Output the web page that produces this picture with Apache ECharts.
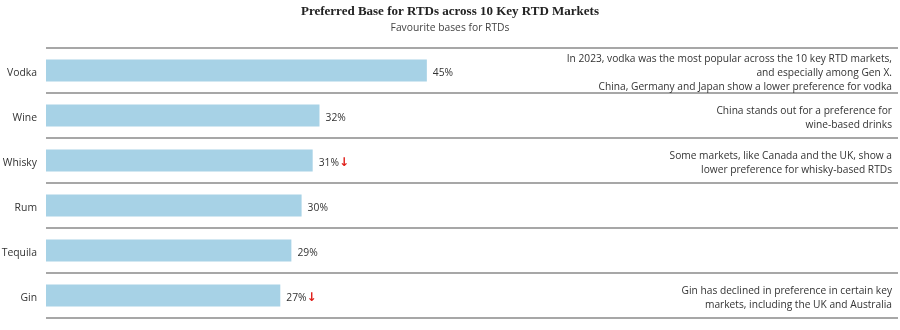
<!DOCTYPE html>
<html>
<head>
<meta charset="utf-8">
<script src="https://cdn.jsdelivr.net/npm/echarts@6/dist/echarts.min.js"></script>
<style>html,body{margin:0;padding:0;background:#fff;}#c{width:900px;height:330px;}</style>
</head>
<body>
<div id="c"></div>
<script>
var categories = ['Vodka', 'Wine', 'Whisky', 'Rum', 'Tequila', 'Gin'];
var values = [44.7, 32.1, 31.3, 30.0, 28.8, 27.5];
var labels = ['45%', '32%', '31%', '30%', '29%', '27%'];
var declined = [false, false, true, false, false, true];
var notes = [
  'In 2023, vodka was the most popular across the 10 key RTD markets,\nand especially among Gen X.\nChina, Germany and Japan show a lower preference for vodka',
  'China stands out for a preference for\nwine-based drinks',
  'Some markets, like Canada and the UK, show a\nlower preference for whisky-based RTDs',
  '',
  '',
  'Gin has declined in preference in certain key\nmarkets, including the UK and Australia'
];

var chart = echarts.init(document.getElementById('c'));
var font = '"Open Sans", "Noto Sans", sans-serif';
function shifted(v) {
  if (!v) return '';
  return '{s| }\n' + v.split('\n').map(function (line) { return '{n|' + line + '}'; }).join('\n');
}
chart.setOption({
  animation: false,
  title: {
    text: 'Preferred Base for RTDs across 10 Key RTD Markets',
    subtext: 'Favourite bases for RTDs',
    left: 'center',
    top: 0,
    itemGap: 5,
    textStyle: { fontFamily: '"Liberation Serif", serif', fontWeight: 'bold', fontSize: 13, color: '#222' },
    subtextStyle: { fontFamily: font, fontSize: 10.3, color: '#444' }
  },
  grid: { left: 46, right: 2, top: 48, bottom: 12, outerBoundsMode: 'none' },
  xAxis: { type: 'value', min: 0, max: 100, show: false },
  yAxis: [{
    type: 'category',
    inverse: true,
    data: categories,
    axisLine: { show: false },
    axisTick: { show: false },
    axisLabel: {
      color: '#333', fontSize: 10.4, fontFamily: font, margin: 9,
      formatter: shifted,
      rich: {
        s: { fontSize: 1, lineHeight: 5 },
        n: { color: '#333', fontSize: 10.4, lineHeight: 14, fontFamily: font }
      }
    },
    splitLine: { show: true, lineStyle: { color: '#8a8a8a', width: 1.5 } }
  }, {
    type: 'category',
    inverse: true,
    position: 'right',
    data: notes,
    axisLine: { show: false },
    axisTick: { show: false },
    axisLabel: {
      inside: true, interval: 0, color: '#333', fontSize: 10.2, lineHeight: 14, fontFamily: font, margin: 6,
      formatter: shifted,
      rich: {
        s: { fontSize: 1, lineHeight: 6 },
        n: { color: '#333', fontSize: 10.2, lineHeight: 14, fontFamily: font }
      }
    },
    splitLine: { show: false }
  }],
  series: [{
    type: 'bar',
    yAxisIndex: 0,
    data: values,
    barWidth: 22,
    itemStyle: { color: '#a7d2e6' },
    label: {
      show: true,
      position: 'right',
      distance: 6,
      fontFamily: font,
      padding: [5, 0, 0, 0],
      formatter: function (p) {
        var s = '{v|' + labels[p.dataIndex] + '}';
        if (declined[p.dataIndex]) s += '{a|↓}';
        return s;
      },
      rich: {
        v: { color: '#333', fontSize: 10.3, fontFamily: font },
        a: { color: '#e0201b', fontSize: 12, fontWeight: 'bold', fontFamily: '"DejaVu Sans", sans-serif' }
      }
    }
  }]
});
</script>
</body>
</html>
